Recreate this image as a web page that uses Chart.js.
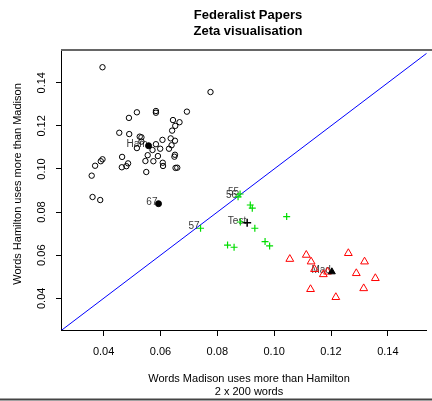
<!DOCTYPE html>
<html>
<head>
<meta charset="utf-8">
<script src="https://cdn.jsdelivr.net/npm/chart.js@4"></script>
<style>
  html, body { margin: 0; padding: 0; background: #fff; overflow: hidden; }
</style>
</head>
<body>
<canvas id="chart" width="432" height="401"></canvas>
<script>
// Federalist Papers, zeta scores: x = Madison marker words, y = Hamilton marker words

const hamiltonX = [0.0396, 0.0776, 0.0517, 0.0584, 0.0584, 0.0693, 0.0489, 0.0644, 0.0667, 0.0652,
  0.0455, 0.0490, 0.0641, 0.0527, 0.0533, 0.0636, 0.0651, 0.0607, 0.0533, 0.0584,
  0.0639, 0.0517, 0.0572, 0.0599, 0.0630, 0.0555, 0.0591, 0.0651, 0.0649, 0.0465,
  0.0486, 0.0396, 0.0390, 0.0370, 0.0547, 0.0575, 0.0608, 0.0609, 0.0464, 0.0480,
  0.0653, 0.0659, 0.0358, 0.0550, 0.0361, 0.0388];
const hamiltonY = [0.1472, 0.1357, 0.1263, 0.1269, 0.1261, 0.1266, 0.1237, 0.1227, 0.1217, 0.1200,
  0.1168, 0.1162, 0.1178, 0.1150, 0.1147, 0.1142, 0.1131, 0.1135, 0.1127, 0.1115,
  0.1110, 0.1097, 0.1088, 0.1094, 0.1094, 0.1064, 0.1060, 0.1066, 0.1057, 0.1056,
  0.1026, 0.1045, 0.1036, 0.1015, 0.1037, 0.1036, 0.1029, 0.1014, 0.1008, 0.1013,
  0.1005, 0.1006, 0.0969, 0.0986, 0.0870, 0.0856];

const madisonX = [0.1055, 0.1113, 0.1130, 0.1261, 0.1318, 0.1142, 0.1173, 0.1188, 0.1289, 0.1356, 0.1128, 0.1315, 0.1217];
const madisonY = [0.0582, 0.0601, 0.0570, 0.0609, 0.0570, 0.0535, 0.0511, 0.0523, 0.0516, 0.0493, 0.0442, 0.0446, 0.0405];

const disputedX = [0.0880, 0.0873, 0.0916, 0.0923, 0.1044, 0.0881, 0.0932, 0.0741, 0.0836, 0.0859, 0.0968, 0.0984];
const disputedY = [0.0884, 0.0871, 0.0833, 0.0818, 0.0779, 0.0754, 0.0725, 0.0725, 0.0647, 0.0637, 0.0663, 0.0643];
const disputedNames = ['55', '56', '', '', '', '', '', '57', '', '', '', ''];

const centreNames = ['Ham', 'Mad', 'Test'];
const centreX = [0.0558, 0.1203, 0.0905];
const centreY = [0.1108, 0.0523, 0.0751];

const paper67X = [0.0593];
const paper67Y = [0.0839];
const paper67Names = ['67'];

const xTicks = [0.04, 0.06, 0.08, 0.10, 0.12, 0.14];
const yTicks = [0.04, 0.06, 0.08, 0.10, 0.12, 0.14];
const diagonal = [0, 0.2];

const pts = (xs, ys) => xs.map((x, i) => ({ x: x, y: ys[i] }));
const FONT = "'Liberation Sans', Arial, sans-serif";

const decor = {
  id: 'decor',
  beforeDatasetsDraw(chart) {
    const ctx = chart.ctx;
    ctx.save();
    ctx.font = '10px ' + FONT;
    ctx.fillStyle = '#3a3a3a';
    ctx.textAlign = 'right';
    ctx.textBaseline = 'alphabetic';
    chart.data.datasets.forEach((ds, i) => {
      if (!ds.names) return;
      chart.getDatasetMeta(i).data.forEach((el, j) => {
        if (ds.names[j]) ctx.fillText(ds.names[j], el.x - 1, el.y + 1);
      });
    });
    ctx.restore();
  },
  afterDraw(chart) {
    const ctx = chart.ctx;
    const a = chart.chartArea;
    const ys = chart.scales.y;
    ctx.save();
    ctx.fillStyle = '#000';

    // titles
    ctx.textAlign = 'center';
    ctx.textBaseline = 'middle';
    ctx.font = 'bold 13px ' + FONT;
    ctx.fillText('Federalist Papers', 248, 15);
    ctx.fillText('Zeta visualisation', 248, 31);

    ctx.font = '11px ' + FONT;
    ctx.fillText('Words Madison uses more than Hamilton', 249, 379);
    ctx.fillText('2 x 200 words', 249, 392);

    // y tick labels, rotated like R
    yTicks.forEach(v => {
      ctx.save();
      ctx.translate(42, ys.getPixelForValue(v));
      ctx.rotate(-Math.PI / 2);
      ctx.fillText(v.toFixed(2), 0, 0);
      ctx.restore();
    });

    ctx.save();
    ctx.translate(18, 184);
    ctx.rotate(-Math.PI / 2);
    ctx.fillText('Words Hamilton uses more than Madison', 0, 0);
    ctx.restore();

    // top of the box and the frame line at the bottom
    ctx.strokeStyle = '#666';
    ctx.lineWidth = 2;
    ctx.beginPath();
    ctx.moveTo(a.left, a.top);
    ctx.lineTo(chart.width, a.top);
    ctx.stroke();
    ctx.strokeStyle = '#444';
    ctx.beginPath();
    ctx.moveTo(0, 399.5);
    ctx.lineTo(chart.width, 399.5);
    ctx.stroke();
    ctx.restore();
  }
};

new Chart(document.getElementById('chart'), {
  type: 'scatter',
  data: {
    datasets: [
      {
        label: 'Test',
        data: pts(centreX.slice(2), centreY.slice(2)),
        names: centreNames.slice(2),
        pointStyle: 'cross',
        radius: 4,
        borderColor: '#000',
        borderWidth: 1.5,
        order: 1
      },
      {
        label: 'centres',
        data: pts(centreX.slice(0, 1), centreY.slice(0, 1)),
        names: centreNames.slice(0, 1),
        pointStyle: 'circle',
        radius: 3,
        backgroundColor: '#000',
        borderColor: '#000',
        borderWidth: 1,
        order: 2
      },
      {
        label: 'Mad centre',
        data: pts(centreX.slice(1, 2), centreY.slice(1, 2)),
        names: centreNames.slice(1, 2),
        pointStyle: 'triangle',
        radius: 4,
        backgroundColor: '#000',
        borderColor: '#000',
        borderWidth: 1,
        order: 3
      },
      {
        label: '67',
        data: pts(paper67X, paper67Y),
        names: paper67Names,
        pointStyle: 'circle',
        radius: 3,
        backgroundColor: '#000',
        borderColor: '#000',
        borderWidth: 1,
        order: 4
      },
      {
        label: 'Disputed',
        data: pts(disputedX, disputedY),
        names: disputedNames,
        pointStyle: 'cross',
        radius: 3.5,
        borderColor: '#00dd00',
        borderWidth: 1.2,
        order: 5
      },
      {
        label: 'Madison',
        data: pts(madisonX, madisonY),
        pointStyle: 'triangle',
        radius: 4.5,
        backgroundColor: 'rgba(0,0,0,0)',
        borderColor: '#ff0000',
        borderWidth: 1,
        order: 6
      },
      {
        label: 'Hamilton',
        data: pts(hamiltonX, hamiltonY),
        pointStyle: 'circle',
        radius: 2.7,
        backgroundColor: 'rgba(0,0,0,0)',
        borderColor: '#000',
        borderWidth: 1,
        order: 7
      },
      {
        type: 'line',
        label: 'x = y',
        data: diagonal.map(v => ({ x: v, y: v })),
        borderColor: '#0000ff',
        borderWidth: 1,
        pointRadius: 0,
        order: 8
      }
    ]
  },
  options: {
    responsive: false,
    animation: false,
    devicePixelRatio: 1,
    layout: { padding: { top: 50, left: 0, right: 0, bottom: 0 } },
    plugins: {
      legend: { display: false },
      tooltip: { enabled: false }
    },
    scales: {
      x: {
        type: 'linear',
        min: 0.025,
        max: 0.1536,
        afterBuildTicks: scale => { scale.ticks = xTicks.map(v => ({ value: v })); },
        afterFit: scale => { scale.height = 71; },
        grid: { drawOnChartArea: false, drawTicks: true, tickLength: 6, color: '#000' },
        border: { display: true, color: '#000', width: 1 },
        ticks: {
          callback: v => v.toFixed(2),
          font: { family: FONT, size: 11 },
          color: '#000',
          padding: 9,
          maxRotation: 0,
          autoSkip: false
        }
      },
      y: {
        type: 'linear',
        min: 0.0253,
        max: 0.1552,
        afterBuildTicks: scale => { scale.ticks = yTicks.map(v => ({ value: v })); },
        afterFit: scale => { scale.width = 61; },
        grid: { drawOnChartArea: false, drawTicks: true, tickLength: 5, color: '#000' },
        border: { display: true, color: '#000', width: 1 },
        ticks: { display: false }
      }
    }
  },
  plugins: [decor]
});
</script>
</body>
</html>
